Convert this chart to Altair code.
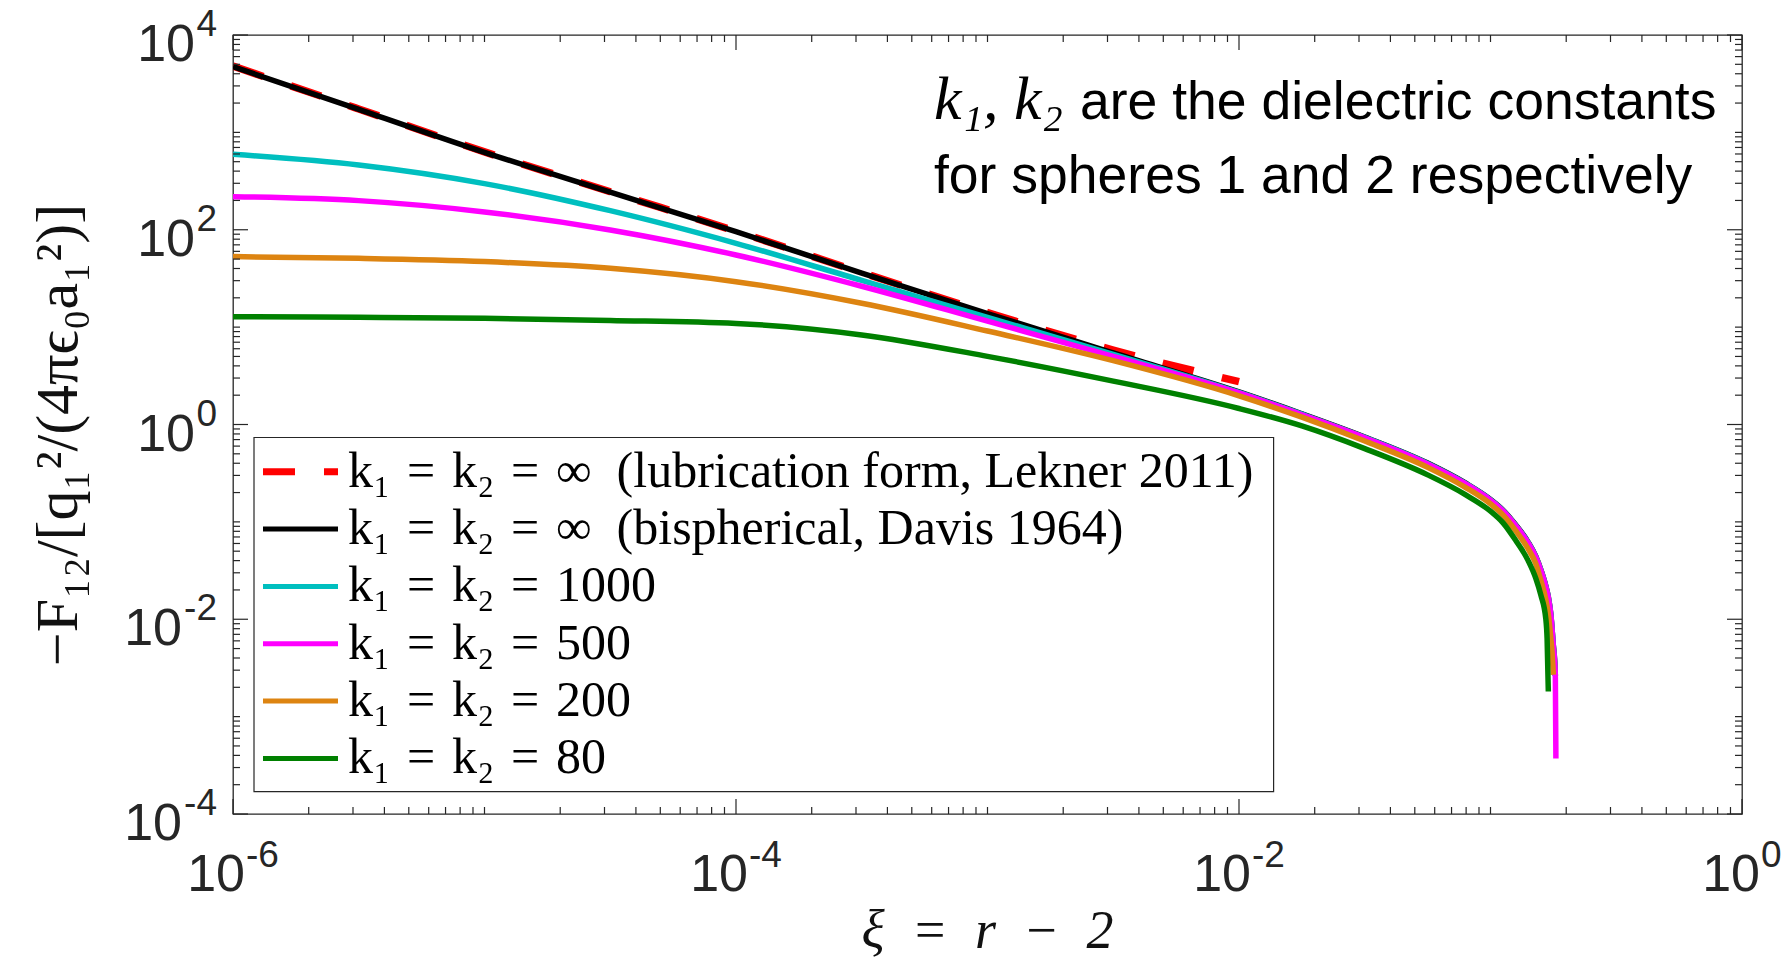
import altair as alt
import pandas as pd

# ---------------------------------------------------------------------------
# Force between two charged dielectric spheres vs. surface gap xi = r - 2
# ---------------------------------------------------------------------------
XI_LEKNER = [1e-6, 3.162e-6, 1e-5, 3.162e-5, 1e-4, 3.162e-4, 1e-3, 3.162e-3, 1e-2]
F_LEKNER = [4786, 1738, 631, 245.5, 96.6, 36.3, 14.1, 5.82, 2.75]

XI_DAVIS = [1e-6, 3.162e-6, 1e-5, 3.162e-5, 1e-4, 3.162e-4, 1e-3, 3.162e-3, 1e-2,
            0.01778, 0.03162, 0.05623, 0.07943, 0.1, 0.1122, 0.1259, 0.1413, 0.1514,
            0.1585, 0.1660, 0.1698, 0.1738, 0.1778, 0.1799, 0.1811]
F_DAVIS = [4730, 1726, 624, 243, 95.5, 35.9, 13.8, 5.43, 2.16, 1.29, 0.745, 0.402,
           0.251, 0.170, 0.132, 0.0933, 0.0617, 0.0442, 0.0324, 0.0219, 0.0170,
           0.0112, 0.00537, 0.0038, 0.00263]

XI_K1000 = XI_DAVIS
F_K1000 = [595.7, 462.4, 297.8, 157.0, 72.6, 30.2, 12.6, 5.25, 2.14, 1.276, 0.738,
           0.398, 0.2489, 0.1683, 0.1306, 0.0925, 0.0611, 0.0438, 0.0321, 0.0217,
           0.0168, 0.0111, 0.00531, 0.00363, 0.00263]

XI_K500 = XI_DAVIS + [0.1820]
F_K500 = [218.8, 199.1, 152.4, 99.5, 55.1, 26.3, 11.5, 5.01, 2.11, 1.259, 0.731,
          0.394, 0.2466, 0.1667, 0.1294, 0.0916, 0.0605, 0.0434, 0.0318, 0.0215,
          0.0167, 0.0110, 0.00525, 0.00372, 0.00251, 0.000372]

XI_K200 = [1e-6, 3.162e-6, 1e-5, 3.162e-5, 1e-4, 3.162e-4, 1e-3, 3.162e-3, 1e-2,
           0.01778, 0.03162, 0.05623, 0.07943, 0.1, 0.1122, 0.1259, 0.1413, 0.1514,
           0.1585, 0.1660, 0.1698, 0.1738, 0.1758, 0.1778]
F_K200 = [53.0, 50.9, 47.1, 40.2, 29.3, 17.6, 9.12, 4.52, 1.97, 1.189, 0.676, 0.363,
          0.2265, 0.153, 0.1175, 0.0813, 0.0525, 0.0372, 0.0251, 0.01585, 0.01122,
          0.00631, 0.00447, 0.00269]

XI_K80 = [1e-6, 3.162e-6, 1e-5, 3.162e-5, 1e-4, 3.162e-4, 1e-3, 3.162e-3, 1e-2,
          0.01778, 0.03162, 0.05623, 0.07943, 0.1, 0.1122, 0.1259, 0.1413, 0.1514,
          0.1585, 0.1660, 0.1679, 0.1698]
F_K80 = [12.8, 12.6, 12.3, 11.7, 10.9, 8.32, 5.01, 2.79, 1.46, 0.966, 0.565, 0.304,
         0.1905, 0.1288, 0.0977, 0.0646, 0.0398, 0.0263, 0.0178, 0.0100, 0.00631,
         0.00181]

# math-style spacing around "=" (three-per-em spaces), wider gap before "("
_EQ = "\u2004=\u2004"
LEGEND_LABELS = [
    f"k₁{_EQ}k₂{_EQ}∞\u2002(lubrication form, Lekner 2011)",
    f"k₁{_EQ}k₂{_EQ}∞\u2002(bispherical, Davis 1964)",
    f"k₁{_EQ}k₂{_EQ}1000",
    f"k₁{_EQ}k₂{_EQ}500",
    f"k₁{_EQ}k₂{_EQ}200",
    f"k₁{_EQ}k₂{_EQ}80",
]

X_TICK_LABELS = [(1e-6, "-6"), (1e-4, "-4"), (1e-2, "-2"), (1.0, "0")]
Y_TICK_LABELS = [(1e4, "4"), (1e2, "2"), (1.0, "0"), (1e-2, "-2"), (1e-4, "-4")]

# ---------------------------------------------------------------------------
# styling
# ---------------------------------------------------------------------------
W, H = 1509, 779
AX = "#262626"
SANS = "Liberation Sans, Arial, Helvetica, sans-serif"
SERIF = "Liberation Serif, DejaVu Serif, serif"

# key, xi, F, colour, dash, width
SERIES = [
    ("lekner", XI_LEKNER, F_LEKNER, "#ff0000", [32, 29], 7.5),
    ("davis", XI_DAVIS, F_DAVIS, "#000000", None, 5.5),
    ("k1000", XI_K1000, F_K1000, "#00bfbf", None, 5.5),
    ("k500", XI_K500, F_K500, "#ff00ff", None, 5.5),
    ("k200", XI_K200, F_K200, "#dd8411", None, 5.5),
    ("k80", XI_K80, F_K80, "#008000", None, 5.5),
]

xs = alt.Scale(type="log", domain=[1e-6, 1], nice=False)
ys = alt.Scale(type="log", domain=[1e-4, 1e4], nice=False)
X = dict(scale=xs, axis=None)
Y = dict(scale=ys, axis=None)

main_layers = []

# curves, drawn in legend order so later series sit on top
for key, xi, f, color, dash, width in SERIES:
    d = pd.DataFrame({"xi": xi, "F": f})
    kw = dict(color=color, strokeWidth=width, interpolate="monotone",
              clip=True, strokeCap="butt")
    if dash:
        kw["strokeDash"] = dash
    main_layers.append(
        alt.Chart(d).mark_line(**kw).encode(
            x=alt.X("xi:Q", **X), y=alt.Y("F:Q", **Y), order="xi:Q"
        )
    )

# inward ticks on all four sides (major every two decades, minor elsewhere)
x_major = [1e-6, 1e-4, 1e-2, 1.0]
x_minor = [k * 10.0 ** n for n in range(-6, 0) for k in range(1, 10)
           if not (k == 1 and n % 2 == 0)]
y_major = [1e-4, 1e-2, 1.0, 1e2, 1e4]
y_minor = [k * 10.0 ** n for n in range(-4, 4) for k in range(1, 10)
           if not (k == 1 and n % 2 == 0)]


def ticks(vals, length, side):
    d = pd.DataFrame({"v": vals})
    m = alt.Chart(d).mark_rule(color=AX, strokeWidth=1.2)
    if side == "bottom":
        return m.encode(x=alt.X("v:Q", **X), y=alt.value(H), y2=alt.value(H - length))
    if side == "top":
        return m.encode(x=alt.X("v:Q", **X), y=alt.value(0), y2=alt.value(length))
    if side == "left":
        return m.encode(y=alt.Y("v:Q", **Y), x=alt.value(0), x2=alt.value(length))
    return m.encode(y=alt.Y("v:Q", **Y), x=alt.value(W), x2=alt.value(W - length))


for side in ("bottom", "top"):
    main_layers.append(ticks(x_major, 15, side))
    main_layers.append(ticks(x_minor, 7, side))
for side in ("left", "right"):
    main_layers.append(ticks(y_major, 15, side))
    main_layers.append(ticks(y_minor, 7, side))

# tick labels "10" with a raised exponent
BASE_FS, EXP_FS = 52, 37
for neg in (True, False):
    rows = [(v, e) for v, e in X_TICK_LABELS if e.startswith("-") == neg]
    d = pd.DataFrame({"v": [r[0] for r in rows], "e": [r[1] for r in rows]})
    shift = 12 if neg else 18
    main_layers.append(
        alt.Chart(d).mark_text(text="10", align="right", baseline="alphabetic",
                               font=SANS, fontSize=BASE_FS, color=AX, dx=shift)
        .encode(x=alt.X("v:Q", **X), y=alt.value(H + 77))
    )
    main_layers.append(
        alt.Chart(d).mark_text(align="left", baseline="alphabetic", font=SANS,
                               fontSize=EXP_FS, color=AX, dx=shift + 1)
        .encode(x=alt.X("v:Q", **X), y=alt.value(H + 53), text="e:N")
    )

for neg in (True, False):
    rows = [(v, e) for v, e in Y_TICK_LABELS if e.startswith("-") == neg]
    d = pd.DataFrame({"v": [r[0] for r in rows], "e": [r[1] for r in rows]})
    base_right = -51 if neg else -38
    main_layers.append(
        alt.Chart(d).mark_text(text="10", align="right", baseline="alphabetic",
                               font=SANS, fontSize=BASE_FS, color=AX, dy=26)
        .encode(y=alt.Y("v:Q", **Y), x=alt.value(base_right))
    )
    main_layers.append(
        alt.Chart(d).mark_text(align="right", baseline="alphabetic", font=SANS,
                               fontSize=EXP_FS, color=AX, dy=1)
        .encode(y=alt.Y("v:Q", **Y), x=alt.value(-16), text="e:N")
    )

one = pd.DataFrame({"a": [0]})

# axis titles
main_layers.append(
    alt.Chart(one).mark_text(text="ξ\u2002=\u2002r\u2002−\u20022", align="center",
                             baseline="alphabetic", font=SERIF, fontStyle="italic",
                             fontSize=54, color="#111111")
    .encode(x=alt.value(W / 2), y=alt.value(913))
)
main_layers.append(
    alt.Chart(one).mark_text(text="−F₁₂/[q₁²/(4πϵ₀a₁²)]", align="center",
                             baseline="middle", angle=270, font=SERIF,
                             fontSize=60, color="#111111")
    .encode(x=alt.value(-174), y=alt.value(400))
)

# annotation in the upper right
main_layers.append(
    alt.Chart(one).mark_text(text="k₁, k₂", align="left", baseline="alphabetic",
                             font=SERIF, fontStyle="italic", fontSize=62, color="black")
    .encode(x=alt.value(701), y=alt.value(84))
)
main_layers.append(
    alt.Chart(one).mark_text(text="are the dielectric constants", align="left",
                             baseline="alphabetic", font=SANS, fontSize=53.5, color="black")
    .encode(x=alt.value(847), y=alt.value(84))
)
main_layers.append(
    alt.Chart(one).mark_text(text="for spheres 1 and 2 respectively", align="left",
                             baseline="alphabetic", font=SANS, fontSize=53.5, color="black")
    .encode(x=alt.value(701), y=alt.value(158))
)

main = alt.layer(*main_layers)

# legend box: one row per series
legend_df = pd.DataFrame({
    "row": list(range(len(SERIES))),
    "key": [s[0] for s in SERIES],
    "label": LEGEND_LABELS,
})
row_scale = alt.Scale(domain=[0, len(SERIES) - 1], range=[436.7, 723.4])

legend_layers = [
    alt.Chart(one).mark_rect(fill="white", stroke=AX, strokeWidth=1.2).encode(
        x=alt.value(21), x2=alt.value(1040.6), y=alt.value(402.5), y2=alt.value(756.6)
    )
]
for key, xi, f, color, dash, width in SERIES:
    kw = dict(color=color, strokeWidth=width - 0.5, strokeCap="butt")
    if dash:
        kw["strokeDash"] = dash
    legend_layers.append(
        alt.Chart(legend_df[legend_df["key"] == key]).mark_rule(**kw).encode(
            x=alt.value(30), x2=alt.value(105),
            y=alt.Y("row:Q", scale=row_scale, axis=None),
        )
    )
legend_layers.append(
    alt.Chart(legend_df).mark_text(align="left", baseline="middle", font=SERIF,
                                   fontSize=50, color="black")
    .encode(x=alt.value(115), y=alt.Y("row:Q", scale=row_scale, axis=None),
            text="label:N")
)
legend = alt.layer(*legend_layers)

chart = (
    alt.layer(main, legend)
    .resolve_scale(x="independent", y="independent")
    .properties(
        width=W,
        height=H,
        padding={"left": 233, "top": 35, "right": 49, "bottom": 149},
        autosize=alt.AutoSizeParams(type="none"),
        background="white",
    )
    .configure_view(stroke=AX, strokeWidth=1.3)
)

chart.save("out.html", embed_options={"renderer": "svg", "actions": False})
